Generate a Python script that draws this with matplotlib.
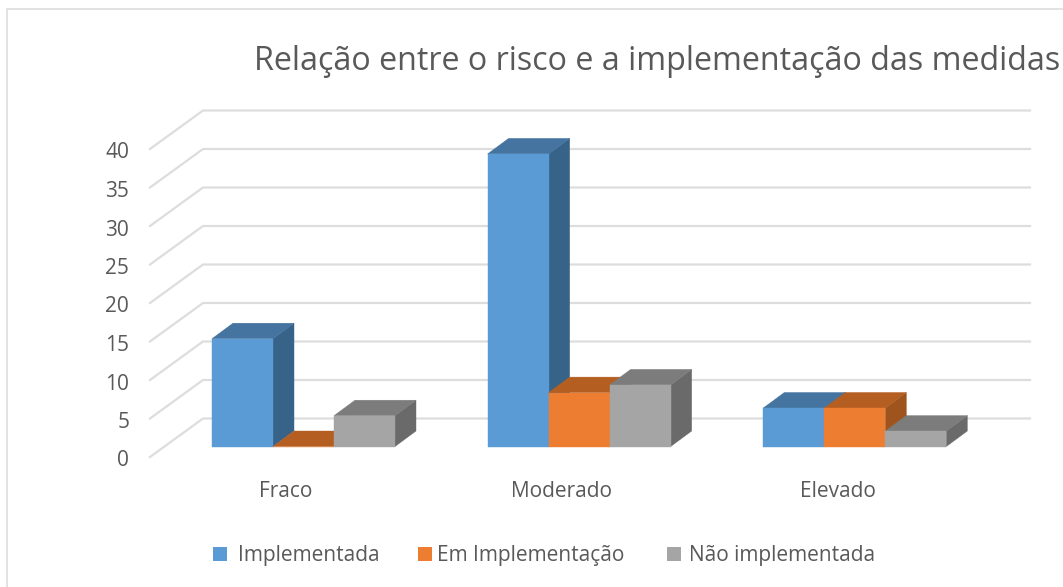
import matplotlib
matplotlib.use('Agg')
import matplotlib.pyplot as plt
from matplotlib.patches import Polygon, Rectangle
from matplotlib.transforms import ScaledTranslation

plt.rcParams['font.family'] = ['Open Sans', 'DejaVu Sans']

# Data
categories = ['Fraco', 'Moderado', 'Elevado']
series_names = ['Implementada', 'Em Implementação', 'Não implementada']
implementada = [14, 38, 5]
em_implementacao = [0, 7, 5]
nao_implementada = [4, 8, 2]
y_ticks = [0, 5, 10, 15, 20, 25, 30, 35, 40]

# front, top, side shades
front_colors = ['#5B9BD5', '#ED7D31', '#A5A5A5']
top_colors = ['#44749F', '#B45E22', '#7C7C7C']
side_colors = ['#376389', '#A0541D', '#6A6A6A']
text_color = '#595959'
grid_color = '#DDDDDD'

W, H = 1063, 587
fig = plt.figure(figsize=(W / 100, H / 100), dpi=100)

# the axes is the front floor of the fake 3d box
left, right, bottom, top = 150, 977, 457, 149
ax = fig.add_axes([left / W, 1 - bottom / H, (right - left) / W, (bottom - top) / H])
ax.set_xlim(0, 3)
ax.set_ylim(0, 40)
ax.patch.set_visible(False)
for s in ax.spines.values():
    s.set_visible(False)

px_x = 3 / (right - left)
px_y = 40 / (bottom - top)

# offsets of the back wall and of the bars
wall_dx = 53 * px_x
wall_dy = 38.5 * px_y
wall_end = (1030 - left) * px_x
bar_dx = 21 * px_x
bar_dy = 15.5 * px_y
bar_w = 61 * px_x
bar_start = 62 * px_x
bar_base = 10.5 * px_y

for v in y_ticks:
    ax.plot([0, wall_dx, wall_end], [v, v + wall_dy, v + wall_dy], color=grid_color,
            lw=1.6, clip_on=False, zorder=1, solid_joinstyle='miter')

# bars, left to right so that each one overlaps the side of the last
all_series = [implementada, em_implementacao, nao_implementada]
z = 2
for c in range(len(categories)):
    for j, vals in enumerate(all_series):
        x0 = c + bar_start + j * bar_w
        x1 = x0 + bar_w
        y0 = bar_base
        y1 = bar_base + vals[c]
        side = [(x1, y0), (x1 + bar_dx, y0 + bar_dy), (x1 + bar_dx, y1 + bar_dy), (x1, y1)]
        roof = [(x0, y1), (x0 + bar_dx, y1 + bar_dy), (x1 + bar_dx, y1 + bar_dy), (x1, y1)]
        ax.add_patch(Polygon(side, fc=side_colors[j], ec=side_colors[j], lw=0.3, clip_on=False, zorder=z))
        ax.add_patch(Polygon(roof, fc=top_colors[j], ec=top_colors[j], lw=0.3, clip_on=False, zorder=z))
        ax.add_patch(Rectangle((x0, y0), bar_w, vals[c], fc=front_colors[j], ec=front_colors[j],
                               lw=0.3, clip_on=False, zorder=z))
        z += 1

ax.set_yticks(y_ticks)
ax.set_xticks([0.493, 1.493, 2.497])
ax.set_xticklabels(categories)
ax.tick_params(axis='y', length=0, pad=15, labelsize=15, labelcolor=text_color)
ax.tick_params(axis='x', length=0, pad=17, labelsize=15, labelcolor=text_color)
# nudge the value labels down a little
nudge = ScaledTranslation(0, -4 / 100, fig.dpi_scale_trans)
for t in ax.get_yticklabels():
    t.set_va('center')
    t.set_transform(t.get_transform() + nudge)

fig.text(254 / W, 1 - 61.5 / H, 'Relação entre o risco e a implementação das medidas',
         fontsize=23.2, color=text_color, ha='left', va='center')

# legend placed by hand, the gaps in the reference are uneven
swatch_x = [213, 418, 667]
label_x = [238, 437, 689]
for i, name in enumerate(series_names):
    fig.add_artist(Rectangle((swatch_x[i] / W, 1 - 561 / H), 14 / W, 14 / H, fc=front_colors[i],
                             ec='none', transform=fig.transFigure))
    fig.text(label_x[i] / W, 1 - 555.5 / H, name, fontsize=15, color=text_color,
             ha='left', va='center')

# chart border, runs off the right and bottom of the image
fig.add_artist(plt.Line2D([6.5 / W, 6.5 / W, 1], [0, 1 - 8.5 / H, 1 - 8.5 / H],
                          color=grid_color, lw=1.2))

fig.savefig('out.png', dpi=100)
